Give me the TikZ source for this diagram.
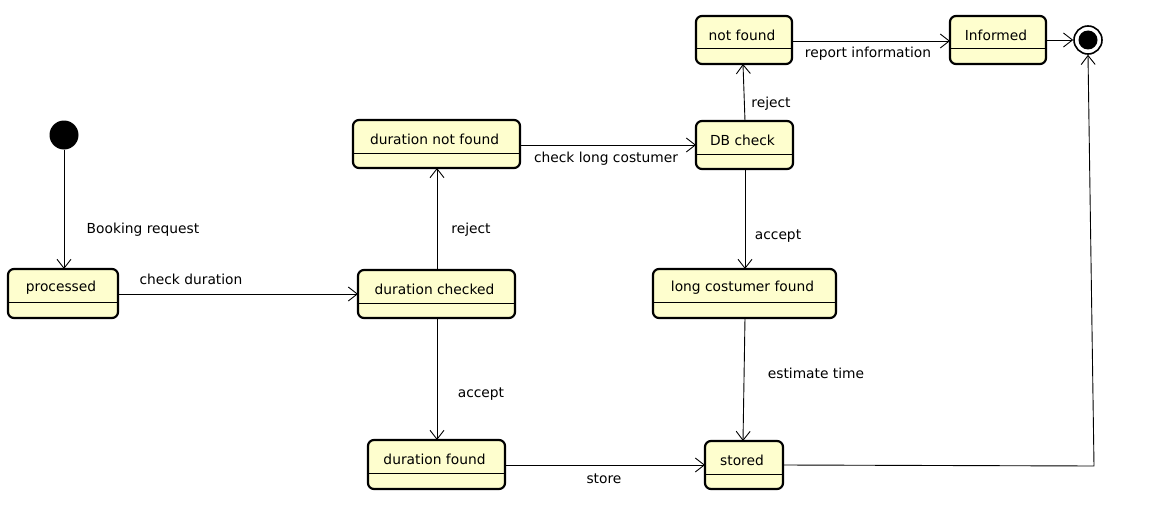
\documentclass[tikz,border=0pt]{standalone}
\usepackage{fontspec}
\setmainfont{DejaVu Sans}
\usetikzlibrary{arrows.meta}
\definecolor{stfill}{HTML}{FEFECE}
\tikzset{
  stbox/.style={draw=black, fill=stfill, line width=2.2pt, rounded corners=6pt, inner sep=0pt, outer sep=0pt},
  lbl/.style={font=\fontsize{13.8}{16}\selectfont, inner sep=0pt, text=black},
  tr/.style={draw=black, line width=0.9pt, -{Straight Barb[length=9pt,width=14pt,line width=0.9pt]}},
}
\newcommand\stnode[6]{%
  \node[stbox, minimum width={(#4-#2)*1pt}, minimum height={(#5-#3)*1pt}] (#1) at ({(#2+#4)/2},{(#3+#5)/2}) {};
  \draw[line width=1pt] ([yshift=-33pt]#1.north west) -- ([yshift=-33pt]#1.north east);
  \node[lbl] (#1-t) at ([yshift=-19pt,xshift=-2pt]#1.north) {#6};
}
\begin{document}
\begin{tikzpicture}[x=1pt,y=-1pt]
\useasboundingbox (0,0) rectangle (1160,511);
\fill[white] (0,0) rectangle (1160,511);
% initial
\node[circle, fill=black, minimum size=29pt, inner sep=0pt] (init) at (64,135) {};
% final
\node[circle, draw=black, line width=1.6pt, fill=white, minimum size=28pt, inner sep=0pt] (final) at (1088,40) {};
\node[circle, fill=black, minimum size=19pt, inner sep=0pt] (finalin) at (1088,40) {};
% states
\stnode{processed}{8}{269}{118}{318}{processed}
\stnode{dchecked}{358}{270}{515}{318}{duration checked}
\stnode{dnotfound}{353}{120}{520}{168}{duration not found}
\stnode{dfound}{368}{440}{505}{489}{duration found}
\stnode{dbcheck}{696}{121}{793}{169}{DB check}
\stnode{notfound}{696}{16}{792}{64}{not found}
\stnode{informed}{950}{16}{1046}{64}{Informed}
\stnode{lcfound}{653}{269}{836}{318}{long costumer found}
\stnode{stored}{705}{441}{783}{489}{stored}
% transitions
\draw[tr] (init.south) -- (processed.north -| init.south);
\node[lbl] (l1) at (143,230) {Booking request};
\draw[tr] (processed.east |- 0,294) -- (dchecked.west |- 0,294);
\node[lbl] (l2) at (191,279) {check duration};
\draw[tr] (dchecked.north -| 437,0) -- (dnotfound.south -| 437,0);
\node[lbl] (l3) at (471,230) {reject};
\draw[tr] (dchecked.south -| 437,0) -- (dfound.north -| 437,0);
\node[lbl] (l4) at (481,394) {accept};
\draw[tr] (dnotfound.east |- 0,145) -- (dbcheck.west |- 0,145);
\node[lbl] (l5) at (606,159) {check long costumer};
\draw[tr] (dbcheck.north -| 745,0) -- (notfound.south -| 743,0);
\node[lbl] (l6) at (771,104) {reject};
\draw[tr] (dbcheck.south -| 745,0) -- (lcfound.north -| 745,0);
\node[lbl] (l7) at (778,236) {accept};
\draw[tr] (lcfound.south -| 745,0) -- (stored.north -| 743,0);
\node[lbl] (l8) at (816,373) {estimate time};
\draw[tr] (dfound.east |- 0,465) -- (stored.west |- 0,465);
\node[lbl] (l9) at (604,479) {store};
\draw[tr] (notfound.east |- 0,41) -- (informed.west |- 0,41);
\node[lbl] (l10) at (868,54) {report information};
\draw[tr] (informed.east |- 0,40) -- (final.west);
\coordinate (bend) at (1094,466);
\draw[tr] (stored.east |- 0,465) -- (bend) -- (final.south);
\end{tikzpicture}
\end{document}
